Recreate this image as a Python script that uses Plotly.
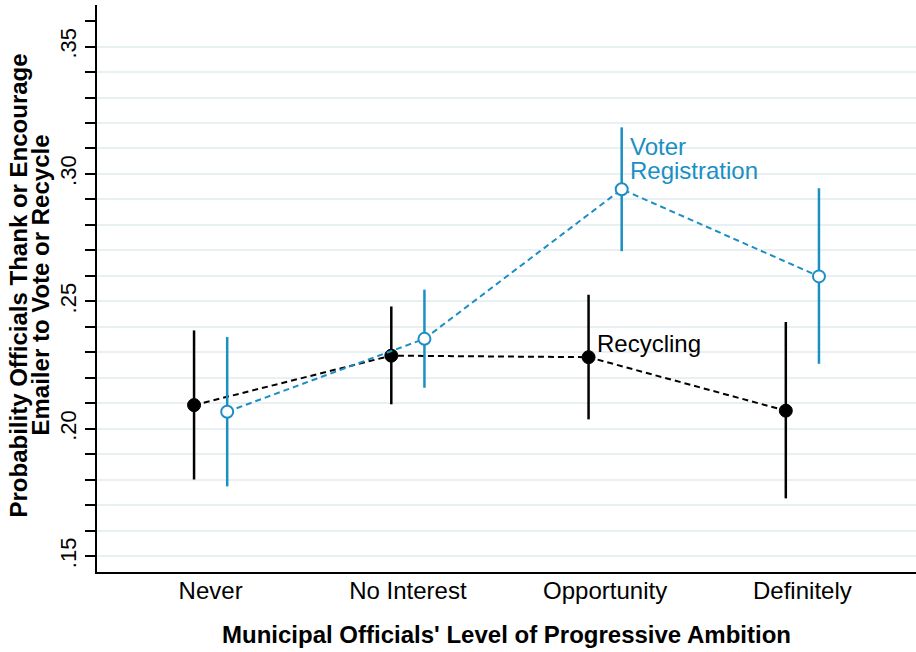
import plotly.graph_objects as go

# Ambition categories (x axis)
categories = ["Never", "No Interest", "Opportunity", "Definitely"]

# Recycling treatment: point estimates and 95% CI bounds
recycling_est = [0.2093, 0.2287, 0.2281, 0.2071]
recycling_lo = [0.1801, 0.2096, 0.2037, 0.1727]
recycling_hi = [0.2386, 0.2480, 0.2526, 0.2419]

# Voter registration treatment: point estimates and 95% CI bounds
voter_est = [0.2067, 0.2353, 0.2940, 0.2598]
voter_lo = [0.1774, 0.2161, 0.2697, 0.2255]
voter_hi = [0.2360, 0.2546, 0.3183, 0.2944]

# y-axis ticks
major_ticks = [0.15, 0.20, 0.25, 0.30, 0.35]
major_labels = [".15", ".20", ".25", ".30", ".35"]

# axis titles
y_title_lines = ["Probability Officials Thank or Encourage", "Emailer to Vote or Recycle"]
x_title = "Municipal Officials' Level of Progressive Ambition"

BLUE = "#1b8fc4"
FONT = "Liberation Sans, Arial, sans-serif"
offset = 0.084
xpos = list(range(1, len(categories) + 1))

fig = go.Figure()

# error bars drawn first, then dashed connecting lines with markers
def add_series(est, lo, hi, shift, color, marker):
    xs = [x + shift for x in xpos]
    fig.add_trace(go.Scatter(
        x=xs, y=est, mode="markers",
        marker=dict(size=1, color="rgba(0,0,0,0)"),
        error_y=dict(type="data", symmetric=False,
                     array=[h - e for h, e in zip(hi, est)],
                     arrayminus=[e - l for e, l in zip(est, lo)],
                     color=color, thickness=2.5, width=0),
        showlegend=False, hoverinfo="skip"))
    fig.add_trace(go.Scatter(
        x=xs, y=est, mode="lines+markers",
        line=dict(color=color, width=2, dash="6px,4px"),
        marker=marker, showlegend=False))
    return xs

rx = add_series(recycling_est, recycling_lo, recycling_hi, -offset, "black",
                dict(size=13, color="black", line=dict(color="black", width=1)))
vx = add_series(voter_est, voter_lo, voter_hi, offset, BLUE,
                dict(size=12, color="white", line=dict(color=BLUE, width=2)))

# series labels, placed next to the Opportunity estimates
for i, word in enumerate(["Voter", "Registration"]):
    fig.add_annotation(x=vx[2], y=voter_hi[2], text=word,
                       xanchor="left", yanchor="middle", xshift=6, yshift=-19 - 24 * i,
                       showarrow=False, align="left",
                       font=dict(family=FONT, size=24, color=BLUE))
fig.add_annotation(x=rx[2], y=recycling_est[2], text="Recycling",
                   xanchor="left", yanchor="bottom", xshift=6, yshift=-2,
                   showarrow=False, align="left",
                   font=dict(family=FONT, size=24, color="black"))

# two-line rotated y-axis title with tight line spacing
for i, line in enumerate(y_title_lines):
    fig.add_annotation(xref="paper", yref="paper", x=0, y=0.5,
                       xanchor="center", yanchor="middle",
                       xshift=-79 + 22 * i, yshift=3,
                       text=f"<b>{line}</b>", textangle=-90, showarrow=False,
                       font=dict(family=FONT, size=24, color="black"))

grid_vals = [round(0.15 + 0.01 * i, 2) for i in range(21)]
grid_text = [major_labels[major_ticks.index(v)] if v in major_ticks else "" for v in grid_vals]

fig.update_layout(
    width=916, height=652,
    margin=dict(l=97, r=0, t=5, b=80),
    paper_bgcolor="white", plot_bgcolor="white",
    font=dict(family=FONT, color="black"),
    xaxis=dict(
        range=[1 - 0.576, 4 + 0.576],
        tickvals=xpos, ticktext=categories,
        tickfont=dict(size=24), ticks="", ticklabelstandoff=-4,
        showgrid=False, zeroline=False,
        showline=True, linecolor="black", linewidth=1.5,
        title=dict(text=f"<b>{x_title}</b>", font=dict(size=24), standoff=24),
    ),
    yaxis=dict(
        range=[0.1438, 0.3663],
        tickvals=grid_vals, ticktext=grid_text,
        tickangle=-90, tickfont=dict(size=22),
        ticks="outside", ticklen=10, tickwidth=1.5, tickcolor="black",
        showgrid=True, gridcolor="#e8f0f2", gridwidth=1.5,
        minor=dict(tickvals=[0.36], ticks="outside", ticklen=10,
                   tickwidth=1.5, tickcolor="black", showgrid=False),
        zeroline=False,
        showline=True, linecolor="black", linewidth=1.5,
    ),
)

fig.write_html("out.html")
